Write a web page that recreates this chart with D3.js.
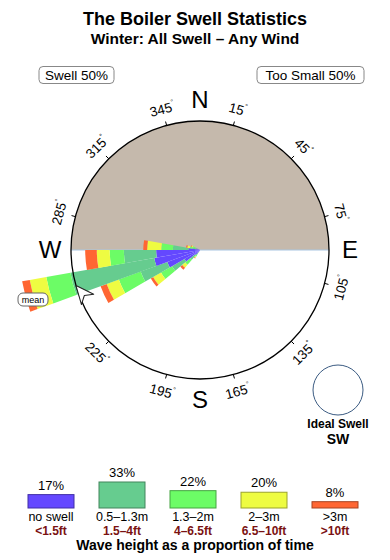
<!DOCTYPE html>
<html>
<head>
<meta charset="utf-8">
<script src="https://cdn.jsdelivr.net/npm/d3@7"></script>
<style>
body { margin: 0; background: #fff; }
svg { font-family: "Liberation Sans", Arial, sans-serif; }
</style>
</head>
<body>
<svg id="chart" width="390" height="560"></svg>
<script>
// wave height classes
const categories = ["no swell", "0.5\u20131.3m", "1.3\u20132m", "2\u20133m", ">3m"]
const feet_labels = ["<1.5ft", "1.5\u20134ft", "4\u20136.5ft", "6.5\u201310ft", ">10ft"]
const category_share = [17, 33, 22, 20, 8]
const colours = ["#6448ff", "#66cc8f", "#6cfc66", "#eefc42", "#ff6633"]

// direction bins (start of each 10 degree bin), % of time per height class
const bin_starts = [210, 220, 230, 240, 250, 260, 270, 280, 290]
const no_swell   = [0.2, 0.5, 1.4, 2.7, 3.6, 3.4, 0.9, 0.3, 0.2]
const small      = [0.2, 0.5, 1.1, 2.2, 6.6, 2.5, 1.2, 0.3, 0.2]
const medium     = [0.2, 0.5, 1.0, 1.8, 1.9, 1.1, 0.9, 0.2, 0.2]
const large      = [0.1, 0.3, 0.7, 1.0, 1.3, 1.0, 1.1, 0.2, 0.1]
const huge       = [0.05, 0.2, 0.2, 0.5, 0.6, 0.9, 0.3, 0.1, 0.05]
const series = [no_swell, small, medium, large, huge]

const mean_direction = 254
const degree_ticks = [15, 45, 75, 105, 135, 165, 195, 225, 285, 315, 345]
const compass = [["N", 0], ["E", 90], ["S", 180], ["W", 270]]

const cx = 200, cy = 250, R = 129
const svg = d3.select("#chart")
const rad = d => d * Math.PI / 180

// titles
svg.append("text").attr("x", 195).attr("y", 25).attr("text-anchor", "middle")
    .attr("font-weight", "bold").attr("font-size", 18).text("The Boiler Swell Statistics")
svg.append("text").attr("x", 195).attr("y", 44).attr("text-anchor", "middle")
    .attr("font-weight", "bold").attr("font-size", 15.5).text("Winter: All Swell \u2013 Any Wind")

function boxLabel(x, w, label){
    svg.append("rect").attr("x", x).attr("y", 66.5).attr("width", w).attr("height", 17)
        .attr("rx", 4).attr("fill", "#fff").attr("stroke", "#888")
    svg.append("text").attr("x", x + w / 2).attr("y", 80).attr("text-anchor", "middle")
        .attr("font-size", 13.5).text(label)
}
boxLabel(39, 75, "Swell 50%")
boxLabel(257, 107, "Too Small 50%")

const rose = svg.append("g").attr("transform", `translate(${cx},${cy})`)
const rScale = d3.scaleLinear().domain([0, 10]).range([0, R])

// "too small" half of the rose
rose.append("path")
    .attr("d", d3.arc()({innerRadius: 0, outerRadius: R, startAngle: rad(-90), endAngle: rad(90)}))
    .attr("fill", "#c5b9ac")
rose.append("line").attr("x1", -R).attr("x2", R).attr("y1", 0).attr("y2", 0)
    .attr("stroke", "#a9c6e2").attr("stroke-width", 1)

// stacked wedges
const arc = d3.arc()
bin_starts.forEach((start, i) => {
    let base = 0
    series.forEach((values, k) => {
        const top = base + values[i]
        rose.append("path")
            .attr("d", arc({innerRadius: rScale(base), outerRadius: rScale(top),
                            startAngle: rad(start), endAngle: rad(start + 10)}))
            .attr("fill", colours[k])
        base = top
    })
})

rose.append("circle").attr("r", R).attr("fill", "none").attr("stroke", "#000").attr("stroke-width", 1.3)

// degree ticks and labels
for(const a of degree_ticks){
    const s = Math.sin(rad(a)), c = -Math.cos(rad(a))
    rose.append("line")
        .attr("x1", R * s).attr("y1", R * c).attr("x2", (R + 4) * s).attr("y2", (R + 4) * c)
        .attr("stroke", "#000")
    const rot = (a > 90 && a < 270) ? a - 180 : (a >= 270 ? a - 360 : a)
    const t = rose.append("text")
        .attr("transform", `translate(${146 * s},${146 * c}) rotate(${rot})`)
        .attr("text-anchor", "middle").attr("dominant-baseline", "central")
        .attr("font-size", 13.5)
    t.append("tspan").text(a)
    t.append("tspan").attr("font-size", 7).attr("dy", -5).text("\u00b0")
}

for(const [letter, a] of compass){
    const s = Math.sin(rad(a)), c = -Math.cos(rad(a))
    rose.append("text")
        .attr("x", 150 * s).attr("y", 150 * c + 8)
        .attr("text-anchor", "middle").attr("font-size", 24)
        .text(letter)
}

// mean direction marker
const ms = Math.sin(rad(mean_direction)), mc = -Math.cos(rad(mean_direction))
rose.append("path")
    .attr("d", "M0,0 L18,-8 L13,0 L18,8 Z")
    .attr("transform", `translate(${R * ms},${R * mc}) rotate(50)`)
    .attr("fill", "#fff").attr("stroke", "#222").attr("stroke-width", 1)
    .attr("stroke-linejoin", "round")

svg.append("rect").attr("x", 18).attr("y", 293).attr("width", 30).attr("height", 13)
    .attr("rx", 5).attr("fill", "#fff").attr("stroke", "#666")
svg.append("text").attr("x", 33).attr("y", 303).attr("text-anchor", "middle")
    .attr("font-size", 9).text("mean")

// ideal swell
svg.append("circle").attr("cx", 338).attr("cy", 390).attr("r", 25)
    .attr("fill", "none").attr("stroke", "#3b5b82").attr("stroke-width", 1)
svg.append("text").attr("x", 338).attr("y", 428).attr("text-anchor", "middle")
    .attr("font-weight", "bold").attr("font-size", 12).text("Ideal Swell")
svg.append("text").attr("x", 338).attr("y", 444).attr("text-anchor", "middle")
    .attr("font-weight", "bold").attr("font-size", 14).text("SW")

// legend
const xLegend = d3.scalePoint().domain(categories).range([51, 335])
const hLegend = d3.scaleLinear().domain([0, 33]).range([0, 26])
const bar_w = 46, bar_base = 508
const legend = svg.append("g")
categories.forEach((cat, i) => {
    const x = xLegend(cat), h = hLegend(category_share[i])
    legend.append("rect").attr("x", x - bar_w / 2).attr("y", bar_base - h)
        .attr("width", bar_w).attr("height", h)
        .attr("fill", colours[i]).attr("stroke", d3.color(colours[i]).darker(1.2))
    legend.append("text").attr("x", x).attr("y", bar_base - h - 5).attr("text-anchor", "middle")
        .attr("font-size", 13).text(`${category_share[i]}%`)
    legend.append("text").attr("x", x).attr("y", 521).attr("text-anchor", "middle")
        .attr("font-size", 12.5).text(cat)
    legend.append("text").attr("x", x).attr("y", 535).attr("text-anchor", "middle")
        .attr("font-size", 12).attr("font-weight", "bold").attr("fill", "#7a1212").text(feet_labels[i])
})
svg.append("text").attr("x", 195).attr("y", 550).attr("text-anchor", "middle")
    .attr("font-weight", "bold").attr("font-size", 14).text("Wave height as a proportion of time")
</script>
</body>
</html>
